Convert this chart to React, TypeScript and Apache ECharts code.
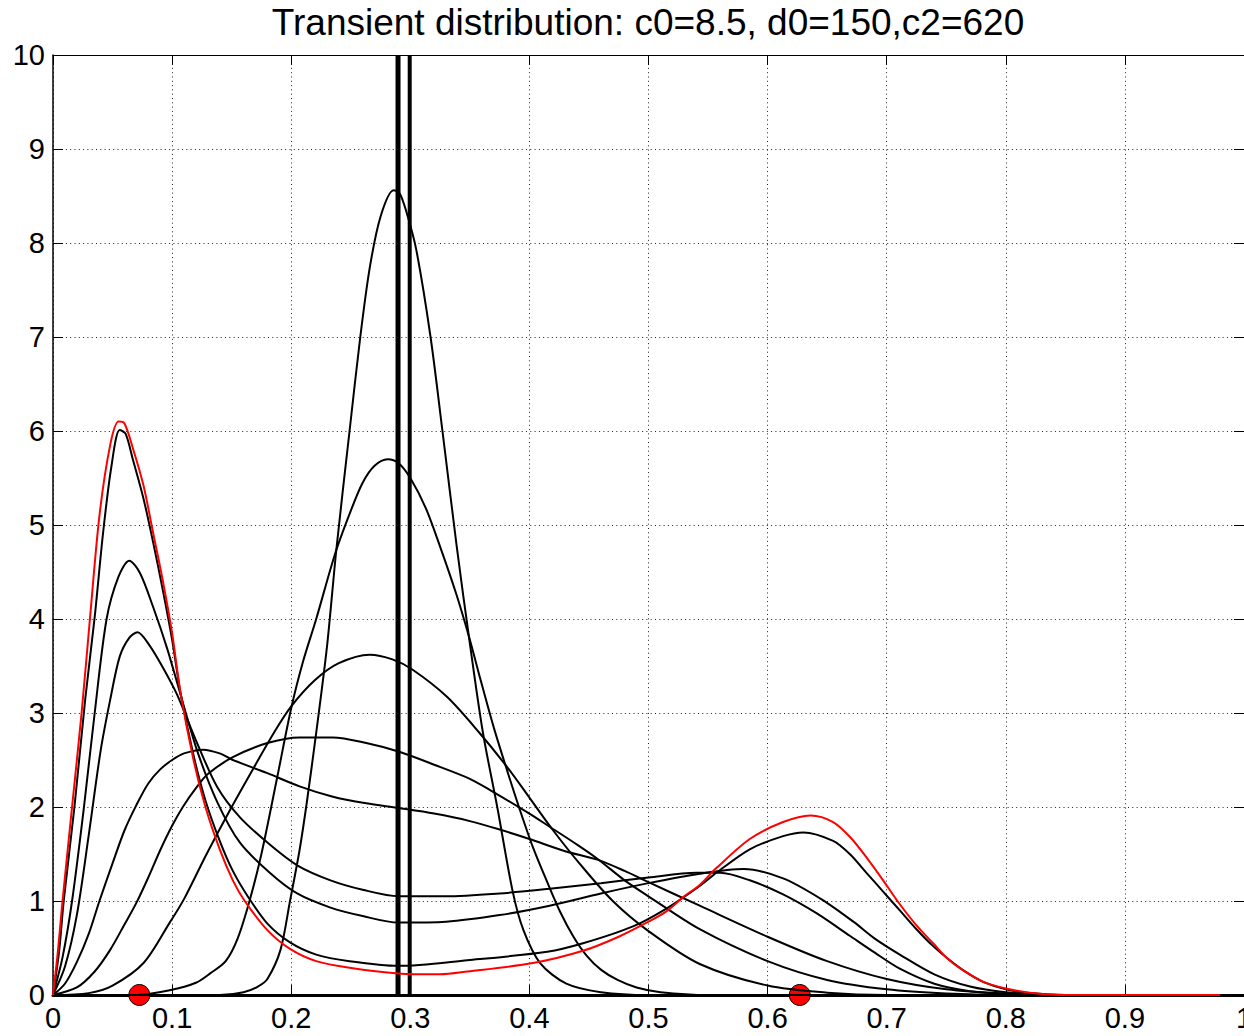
import { useEffect, useRef } from "react";
import * as echarts from "echarts";

const TITLE = "Transient distribution: c0=8.5, d0=150,c2=620";
const X_TICK_LABELS = ["0", "0.1", "0.2", "0.3", "0.4", "0.5", "0.6", "0.7", "0.8", "0.9", "1"];

// curve H: initial narrow peak (8.55 at 0.286)
const curveH: number[][] = [[0,0],[0.14,0],[0.16,0.03],[0.172,0.09],[0.18,0.17],[0.191,0.48],[0.199,1.0],[0.207,1.54],[0.213,2.04],[0.221,2.79],[0.23,3.7],[0.238,4.75],[0.249,6.0],[0.258,7.0],[0.266,7.74],[0.275,8.28],[0.286,8.56],[0.291,8.53],[0.297,8.32],[0.305,7.93],[0.317,7.0],[0.327,6.0],[0.339,4.77],[0.35,3.74],[0.361,2.79],[0.373,2.0],[0.386,1.1],[0.395,0.69],[0.409,0.34],[0.431,0.12],[0.46,0.03],[0.5,0],[1,0]];
// curve G: 5.7 at 0.281
const curveG: number[][] = [[0,0],[0.07,0],[0.098,0.05],[0.12,0.13],[0.132,0.23],[0.145,0.36],[0.155,0.6],[0.165,1.0],[0.175,1.5],[0.188,2.3],[0.2,3.05],[0.21,3.55],[0.221,4.0],[0.237,4.7],[0.25,5.15],[0.26,5.45],[0.27,5.63],[0.281,5.7],[0.29,5.66],[0.3,5.5],[0.313,5.18],[0.325,4.77],[0.339,4.25],[0.35,3.78],[0.358,3.4],[0.37,2.85],[0.381,2.4],[0.392,1.97],[0.403,1.57],[0.415,1.2],[0.426,0.88],[0.437,0.62],[0.448,0.42],[0.46,0.27],[0.474,0.16],[0.49,0.08],[0.51,0.03],[0.55,0],[1,0]];
// curve F: 3.62 at 0.266
const curveF: number[][] = [[0,0],[0.03,0.02],[0.05,0.1],[0.076,0.34],[0.098,0.77],[0.11,1.02],[0.129,1.5],[0.15,2.0],[0.17,2.45],[0.185,2.78],[0.2,3.07],[0.22,3.35],[0.24,3.53],[0.266,3.62],[0.285,3.57],[0.302,3.46],[0.331,3.17],[0.358,2.79],[0.381,2.43],[0.4,2.1],[0.42,1.75],[0.442,1.4],[0.47,1.0],[0.5,0.68],[0.543,0.33],[0.6,0.1],[0.65,0.025],[0.7,0],[1,0]];
// curve E: 2.74 at 0.21
const curveE: number[][] = [[0,0],[0.02,0.08],[0.035,0.25],[0.048,0.48],[0.06,0.75],[0.07,0.98],[0.08,1.25],[0.09,1.54],[0.1,1.8],[0.109,2.0],[0.12,2.2],[0.13,2.35],[0.151,2.53],[0.18,2.68],[0.207,2.74],[0.235,2.74],[0.263,2.68],[0.29,2.59],[0.32,2.45],[0.35,2.3],[0.367,2.18],[0.4,1.93],[0.417,1.79],[0.44,1.6],[0.457,1.45],[0.48,1.22],[0.5,1.05],[0.543,0.7],[0.6,0.36],[0.65,0.16],[0.7,0.06],[0.75,0.015],[0.8,0],[1,0]];
// curve D: 2.61 at 0.126
const curveD: number[][] = [[0,0],[0.01,0.12],[0.02,0.35],[0.03,0.65],[0.039,1.0],[0.05,1.4],[0.06,1.75],[0.07,2.02],[0.08,2.25],[0.09,2.4],[0.1,2.5],[0.11,2.57],[0.126,2.61],[0.14,2.57],[0.151,2.5],[0.18,2.36],[0.207,2.22],[0.235,2.11],[0.263,2.04],[0.29,1.99],[0.32,1.93],[0.35,1.85],[0.375,1.76],[0.4,1.66],[0.43,1.53],[0.457,1.44],[0.48,1.32],[0.5,1.2],[0.543,0.95],[0.6,0.62],[0.65,0.36],[0.7,0.17],[0.75,0.06],[0.8,0.015],[0.85,0],[1,0]];
// curve C: 3.86 at 0.071
const curveC: number[][] = [[0,0],[0.01,0.3],[0.02,0.85],[0.03,1.7],[0.04,2.6],[0.048,3.14],[0.056,3.6],[0.064,3.8],[0.071,3.86],[0.081,3.72],[0.092,3.49],[0.104,3.2],[0.121,2.68],[0.138,2.21],[0.157,1.89],[0.182,1.6],[0.205,1.38],[0.233,1.22],[0.26,1.12],[0.29,1.05],[0.33,1.05],[0.375,1.08],[0.417,1.13],[0.46,1.19],[0.5,1.25],[0.54,1.3],[0.56,1.3],[0.585,1.22],[0.613,1.07],[0.641,0.87],[0.669,0.63],[0.69,0.45],[0.711,0.28],[0.74,0.12],[0.77,0.04],[0.8,0.01],[0.84,0],[1,0]];
// curve B: 4.62 at 0.064
const curveB: number[][] = [[0,0],[0.008,0.4],[0.016,1.0],[0.026,2.0],[0.035,3.0],[0.045,4.0],[0.055,4.45],[0.064,4.62],[0.073,4.49],[0.084,4.13],[0.096,3.68],[0.107,3.2],[0.121,2.6],[0.138,2.05],[0.157,1.62],[0.182,1.3],[0.205,1.08],[0.233,0.93],[0.26,0.84],[0.29,0.77],[0.33,0.78],[0.375,0.85],[0.417,0.95],[0.46,1.08],[0.5,1.19],[0.543,1.29],[0.58,1.34],[0.613,1.24],[0.645,1.02],[0.672,0.78],[0.69,0.6],[0.711,0.43],[0.74,0.22],[0.77,0.09],[0.8,0.03],[0.84,0],[1,0]];
// curve A: 6.01 at 0.056
const curveA: number[][] = [[0,0],[0.005,0.45],[0.009,1.0],[0.018,2.0],[0.027,3.14],[0.035,4.02],[0.042,4.91],[0.049,5.62],[0.056,6.01],[0.061,5.97],[0.067,5.7],[0.076,5.28],[0.084,4.82],[0.092,4.32],[0.1,3.78],[0.107,3.22],[0.118,2.55],[0.128,2.07],[0.14,1.64],[0.151,1.32],[0.164,1.04],[0.18,0.76],[0.199,0.56],[0.221,0.43],[0.249,0.36],[0.29,0.31],[0.348,0.37],[0.415,0.46],[0.445,0.55],[0.487,0.73],[0.515,0.92],[0.543,1.16],[0.557,1.3],[0.585,1.55],[0.613,1.69],[0.63,1.73],[0.655,1.64],[0.669,1.5],[0.683,1.3],[0.697,1.1],[0.711,0.9],[0.725,0.7],[0.739,0.52],[0.753,0.37],[0.767,0.24],[0.781,0.14],[0.8,0.06],[0.82,0.02],[0.85,0],[1,0]];
// red: stationary distribution
const curveRed: number[][] = [[0,0],[0.004,0.45],[0.008,1.0],[0.016,2.0],[0.024,3.0],[0.031,4.0],[0.039,5.1],[0.048,5.85],[0.055,6.1],[0.06,6.08],[0.067,5.82],[0.076,5.42],[0.084,4.92],[0.092,4.42],[0.1,3.85],[0.107,3.22],[0.118,2.5],[0.128,2.0],[0.14,1.55],[0.151,1.22],[0.161,1.0],[0.18,0.69],[0.199,0.49],[0.221,0.36],[0.249,0.29],[0.29,0.23],[0.325,0.22],[0.348,0.25],[0.403,0.34],[0.445,0.47],[0.475,0.62],[0.5,0.78],[0.515,0.89],[0.53,1.05],[0.543,1.17],[0.557,1.35],[0.585,1.66],[0.613,1.84],[0.636,1.91],[0.655,1.84],[0.67,1.67],[0.685,1.43],[0.697,1.22],[0.709,1.0],[0.725,0.74],[0.739,0.55],[0.75,0.4],[0.762,0.28],[0.781,0.14],[0.8,0.07],[0.82,0.025],[0.85,0],[0.98,0]];

const blackCurves = [curveH, curveG, curveF, curveE, curveD, curveC, curveB, curveA];
const markerX = [0.0725, 0.627];
const verticalX = [0.2897, 0.2995];
const verticalWidth = [5, 4];

const FONT = "'Liberation Sans', Arial, Helvetica, sans-serif";

export default function App() {
  const ref = useRef<HTMLDivElement>(null);
  useEffect(() => {
    const chart = echarts.init(ref.current!, null, { renderer: "svg" });
    const tick = { show: true, inside: true, length: 10, lineStyle: { color: "#000", width: 1 } };
    const series: any[] = [];
    series.push({
      type: "scatter",
      data: markerX.map((x) => [x, 0]),
      symbolSize: 21,
      itemStyle: { color: "#ff0000", borderColor: "#000", borderWidth: 1, opacity: 1 },
      z: 1,
      clip: false,
      silent: true,
    });
    blackCurves.forEach((c) => {
      series.push({
        type: "line",
        data: c,
        showSymbol: false,
        smooth: 0.3,
        clip: false,
        lineStyle: { color: "#000", width: 2 },
        z: 2,
        silent: true,
      });
    });
    verticalX.forEach((x, i) => {
      series.push({
        type: "line",
        data: [[x, 0], [x, 10]],
        showSymbol: false,
        lineStyle: { color: "#000", width: verticalWidth[i] },
        z: 2,
        silent: true,
      });
    });
    series.push({
      type: "line",
      data: curveRed,
      showSymbol: false,
      smooth: 0.3,
      clip: false,
      lineStyle: { color: "#ff0000", width: 2 },
      z: 3,
      silent: true,
    });

    chart.setOption({
      animation: false,
      backgroundColor: "#fff",
      title: {
        text: TITLE,
        left: 648,
        textAlign: "center",
        top: 4,
        padding: 0,
        textStyle: { fontFamily: FONT, fontSize: 37, fontWeight: "normal", color: "#000" },
      },
      grid: { left: 53, right: 0, top: 55, bottom: 41, containLabel: false, outerBoundsMode: "none" },
      xAxis: [
        {
          type: "value",
          min: 0,
          max: 1,
          interval: 0.1,
          position: "bottom",
          axisLine: { show: true, onZero: false, lineStyle: { color: "#000", width: 3 } },
          axisTick: tick,
          splitLine: { show: true, lineStyle: { color: "#222", width: 1, type: [1, 3.3] } },
          axisLabel: {
            show: true,
            color: "#000",
            fontFamily: FONT,
            fontSize: 29,
            margin: 8,
            showMaxLabel: true,
            formatter: (v: number) => X_TICK_LABELS[Math.round(v * 10)] ?? "",
          },
        },
        {
          type: "value",
          min: 0,
          max: 1,
          interval: 0.1,
          position: "top",
          axisLine: { show: true, onZero: false, lineStyle: { color: "#000", width: 1 } },
          axisTick: tick,
          splitLine: { show: false },
          axisLabel: { show: false },
        },
      ],
      yAxis: [
        {
          type: "value",
          min: 0,
          max: 10,
          interval: 1,
          position: "left",
          axisLine: { show: true, onZero: false, lineStyle: { color: "#000", width: 1.5 } },
          axisTick: tick,
          splitLine: { show: true, lineStyle: { color: "#222", width: 1, type: [1, 3.3] } },
          axisLabel: { show: true, color: "#000", fontFamily: FONT, fontSize: 29, margin: 8 },
        },
        {
          type: "value",
          min: 0,
          max: 10,
          interval: 1,
          position: "right",
          axisLine: { show: true, onZero: false, lineStyle: { color: "#000", width: 1 } },
          axisTick: tick,
          splitLine: { show: false },
          axisLabel: { show: false },
        },
      ],
      series,
    });
    return () => chart.dispose();
  }, []);
  return (
    <div style={{ position: "fixed", left: 0, top: 0, width: 1244, height: 1036, background: "#fff", overflow: "hidden" }}>
      <div ref={ref} style={{ width: 1244, height: 1036 }} />
    </div>
  );
}
